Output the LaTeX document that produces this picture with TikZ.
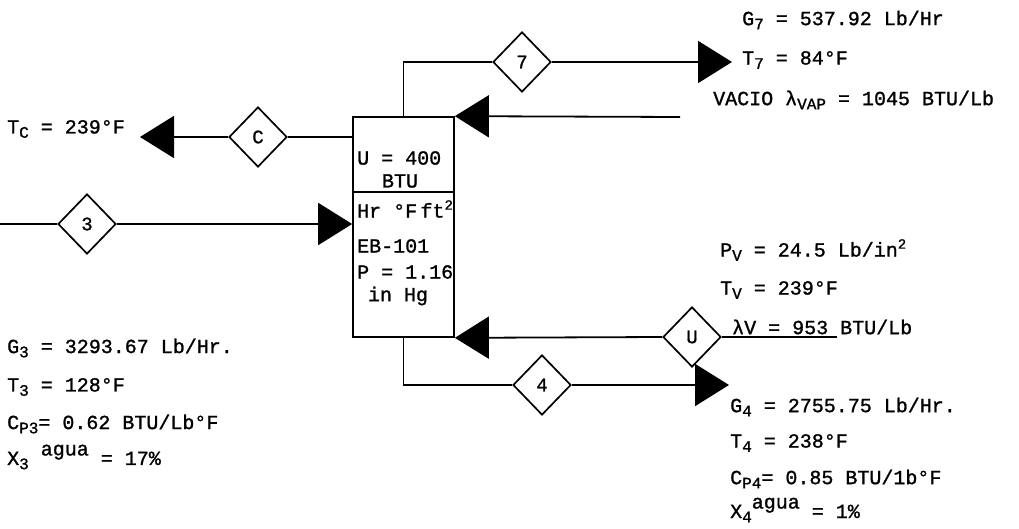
\documentclass[tikz,border=0pt]{standalone}
\usepackage{fontspec}
\setmainfont{Liberation Mono}[FakeBold=1.2]
\usetikzlibrary{shapes.geometric,arrows.meta}
\newcommand{\sbs}[1]{\raisebox{-0.4ex}{\fontsize{16}{16}\selectfont #1}}
\newcommand{\sps}[1]{\raisebox{0.75ex}{\fontsize{14}{14}\selectfont #1}}
\newcommand{\agua}{\raisebox{0.9ex}{agua}}
\tikzset{
  every node/.style={font=\fontsize{20}{22}\selectfont, inner sep=0pt},
  txt/.style={anchor=west},
  dia/.style={diamond, draw, line width=1.7pt, minimum width=58pt, minimum height=60pt, inner sep=0pt, font=\fontsize{19}{19}\selectfont},
  flow/.style={line width=1.8pt},
  arr/.style={line width=1.8pt, -{Triangle[length=34pt,width=42pt]}},
}
\begin{document}
\begin{tikzpicture}[x=1pt,y=-1pt]
\useasboundingbox (0,0) rectangle (1019,529);
% evaporator box
\node[draw, line width=1.7pt, minimum width=101pt, minimum height=220pt] (box) at (403.5,227) {};
\draw[line width=1.4pt] (353,192) -- (454,192);
\node[txt] (bU) at (357,158) {U = 400};
\node (bBTU) at (400,181) {BTU};
\node[txt] (bHr) at (357,209) {Hr °F\,ft\sps{2}};
\node[txt] (bEB) at (357,246) {EB-101};
\node[txt] (bP) at (357,272) {P = 1.16};
\node (bHg) at (398,296) {in Hg};
% diamonds
\node[dia] (d7) at (522,62) {7};
\node[dia] (dC) at (258,137) {C};
\node[dia] (d3) at (87,224) {3};
\node[dia] (dU) at (692,337) {U};
\node[dia] (d4) at (542,385) {4};
% free ends
\coordinate (e7) at (732,62);
\coordinate (eC) at (140,137);
\coordinate (s3) at (0,224);
\coordinate (sV) at (680,117);
\coordinate (sU) at (837,337);
\coordinate (e4) at (729,385);
% connectors
\draw[flow] (box.north) |- (d7.west);
\draw[arr] (d7.east) -- (e7);
\draw[flow] (box.west |- dC.east) -- (dC.east);
\draw[arr] (dC.west) -- (eC);
\draw[flow] (s3) -- (d3.west);
\draw[arr] (d3.east) -- (box.west |- d3.east);
\draw[arr] (sV) -- (box.north east);
\draw[flow] (sU) -- (dU.east);
\draw[arr] (dU.west) -- (box.south east);
\draw[flow] (box.south) |- (d4.west);
\draw[arr] (d4.east) -- (e4);
% labels
\node[txt] (tTC) at (7,129) {T\sbs{C} = 239°F};
\node[txt] (tG7) at (742,20) {G\sbs{7} = 537.92 Lb/Hr};
\node[txt] (tT7) at (742,60) {T\sbs{7} = 84°F};
\node[txt] (tVac) at (713,100) {VACIO λ\sbs{VAP} = 1045 BTU/Lb};
\node[txt] (tPV) at (720,250) {P\sbs{V} = 24.5 Lb/in\sps{2}};
\node[txt] (tTV) at (720,290) {T\sbs{V} = 239°F};
\node[txt] (tLV) at (732,327) {λV = 953 BTU/Lb};
\node[txt] (tG4) at (730,407) {G\sbs{4} = 2755.75 Lb/Hr.};
\node[txt] (tT4) at (730,443) {T\sbs{4} = 238°F};
\node[txt] (tC4) at (730,479) {C\sbs{P4}= 0.85 BTU/1b°F};
\node[txt] (tX4) at (730,510) {X\sbs{4}\agua{} = 1\%};
\node[txt] (tG3) at (7,348) {G\sbs{3} = 3293.67 Lb/Hr.};
\node[txt] (tT3) at (7,387) {T\sbs{3} = 128°F};
\node[txt] (tC3) at (7,424) {C\sbs{P3}= 0.62 BTU/Lb°F};
\node[txt] (tX3) at (7,457) {X\sbs{3} \agua{} = 17\%};
\end{tikzpicture}
\end{document}
